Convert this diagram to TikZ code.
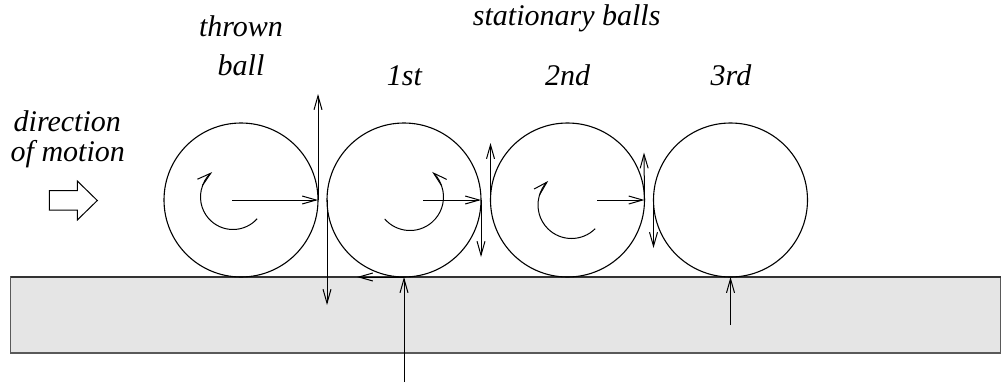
\documentclass[tikz,border=0pt]{standalone}
\usepackage{fontspec}
\setmainfont{Liberation Serif}
\newfontfamily\lblfont{Liberation Serif}
\usetikzlibrary{arrows.meta}
\begin{document}
\begin{tikzpicture}[x=1pt,y=-1pt,line width=1pt,
  >={Straight Barb[length=14pt,width=8pt]},
  ball/.style={circle,draw,minimum size=154pt,inner sep=0pt,outer sep=0pt,line width=1.1pt},
  floorbox/.style={rectangle,draw=black!65,fill=black!10,line width=1.5pt,minimum width=990pt,minimum height=76pt,inner sep=0pt,outer sep=0pt},
  lbl/.style={font=\lblfont\fontsize{30}{36}\selectfont\itshape,anchor=base,inner sep=0pt},
  force/.style={->,line width=1pt},
  spin/.style={->,line width=1pt}]
\useasboundingbox (0,0) rectangle (1002,383);
% floor
\node[floorbox] (floor) at (505.5,315) {};
\draw[black!80,line width=2.2pt] (floor.north west) -- (floor.north east);
% balls
\node[ball] (b0) at (241,200) {};
\node[ball] (b1) at (404,200) {};
\node[ball] (b2) at (567.5,200) {};
\node[ball] (b3) at (730.5,200) {};
% labels
\node[lbl] (thrown) at (241,36.7) {thrown};
\node[lbl] (tball) at (241,75) {ball};
\node[lbl] (stat) at (566.7,25) {stationary balls};
\node[lbl] (first) at (404.5,85) {1st};
\node[lbl] (second) at (567.5,85) {2nd};
\node[lbl] (third) at (731,85) {3rd};
\node[lbl] (dir) at (67.3,131.7) {direction};
\node[lbl] (mot) at (67.8,161.7) {of motion};
% direction block arrow
\draw[line width=1pt] (49.3,190.7) -- (77.3,190.7) -- (77.3,181) -- (97.3,200.5)
  -- (77.3,220) -- (77.3,210) -- (49.3,210) -- cycle;
% free ends of force arrows
\coordinate (h0) at (232,200);
\coordinate (u0) at (318,94);
\coordinate (d1) at (327,305);
\coordinate (h1) at (423,200);
\coordinate (d1r) at (481,257);
\coordinate (l1) at (357,277);
\coordinate (n1) at (404,382);
\coordinate (u2) at (490.5,143);
\coordinate (h2) at (597,200);
\coordinate (u2r) at (644,152.5);
\coordinate (d3) at (653.5,248);
\coordinate (n3) at (730.5,325);
% forces
\draw[force] (h0) -- (b0.east);
\draw[force] (b0.east) -- (u0);
\draw[force] (b1.west) -- (d1);
\draw[force] (h1) -- (b1.east);
\draw[force] (b1.east) -- (d1r);
\draw[force] (b1.south) -- (l1);
\draw[force] (n1) -- (b1.south);
\draw[force] (b2.west) -- (u2);
\draw[force] (h2) -- (b2.east);
\draw[force] (b2.east) -- (u2r);
\draw[force] (b3.west) -- (d3);
\draw[force] (n3) -- (b3.south);
% spins
\coordinate (s0) at (233,197);
\coordinate (s1) at (410,197);
\coordinate (s2) at (571.5,205);
\draw[spin] ([shift={(42:32.5)}]s0) arc[start angle=42,end angle=230,radius=32.5];
\draw[spin] ([shift={(139:33.5)}]s1) arc[start angle=139,end angle=-48.5,radius=33.5];
\draw[spin] ([shift={(45:33.5)}]s2) arc[start angle=45,end angle=226,radius=33.5];
\end{tikzpicture}
\end{document}
